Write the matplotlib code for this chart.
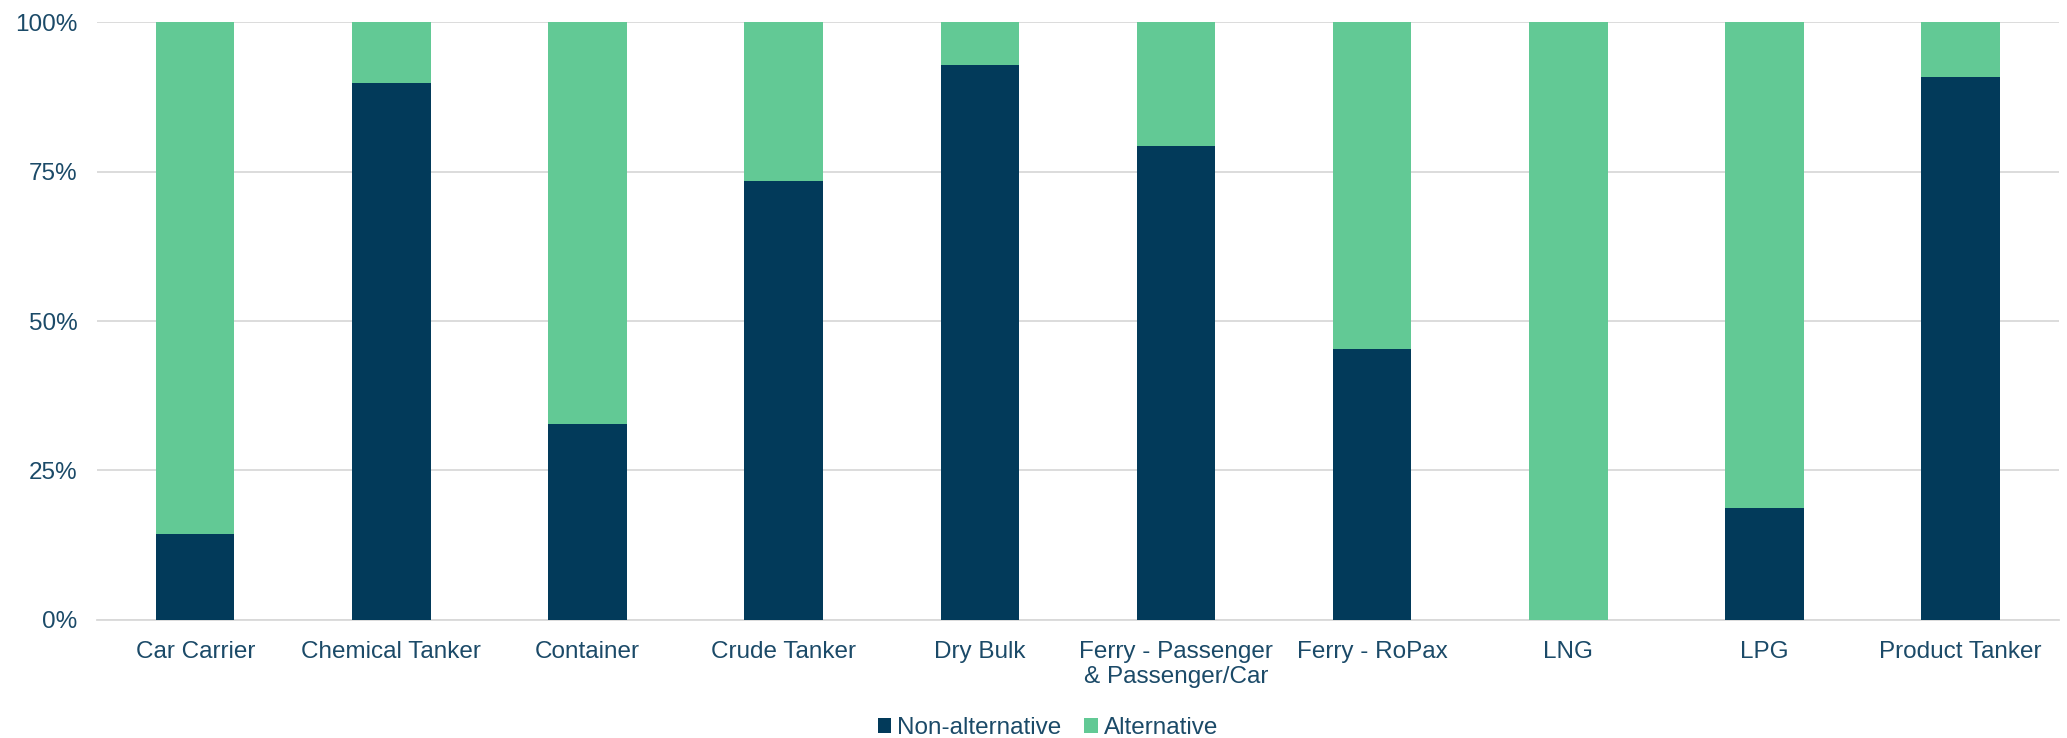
import matplotlib.pyplot as plt
from matplotlib.ticker import PercentFormatter

# Share of vessels by fuel type per segment
segments = ['Car Carrier', 'Chemical Tanker', 'Container', 'Crude Tanker', 'Dry Bulk',
            'Ferry - Passenger\n& Passenger/Car', 'Ferry - RoPax', 'LNG', 'LPG', 'Product Tanker']
non_alternative = [14.4, 89.8, 32.8, 73.5, 92.8, 79.2, 45.4, 0.0, 18.7, 90.9]
alternative = [100 - v for v in non_alternative]

dark = '#023A5A'
green = '#62C995'
text_col = '#1B4A68'

plt.rcParams['font.family'] = ['Liberation Sans', 'DejaVu Sans']

fig = plt.figure(figsize=(20.67, 7.38), dpi=100)
ax = fig.add_axes([0.047, 0.160, 0.949, 0.810])

x = range(len(segments))
ax.bar(x, non_alternative, width=0.40, color=dark, label='Non-alternative', zorder=3)
ax.bar(x, alternative, width=0.40, bottom=non_alternative, color=green, label='Alternative', zorder=3)

ax.set_ylim(0, 100)
ax.set_xlim(-0.5, len(segments) - 0.5)
ax.set_yticks([0, 25, 50, 75, 100])
ax.yaxis.set_major_formatter(PercentFormatter(decimals=0))
ax.set_xticks(list(x))
ax.set_xticklabels(segments, linespacing=1.2)
ax.grid(axis='y', color='#D9D9D9', linewidth=1.3, zorder=0)
for s in ['top', 'right', 'left']:
    ax.spines[s].set_visible(False)
ax.spines['bottom'].set_color('#D9D9D9')
ax.spines['bottom'].set_linewidth(1.3)
ax.tick_params(length=0, labelsize=17.5, labelcolor=text_col)
ax.tick_params(axis='x', pad=15)
ax.tick_params(axis='y', pad=14)

leg = fig.legend(loc='center', bbox_to_anchor=(0.507, 0.013), ncol=2, frameon=False,
                 fontsize=17.5, handlelength=0.55, handleheight=0.55, handletextpad=0.25,
                 columnspacing=0.95, borderpad=0)
for t in leg.get_texts():
    t.set_color(text_col)

fig.savefig('out.png', dpi=100)
